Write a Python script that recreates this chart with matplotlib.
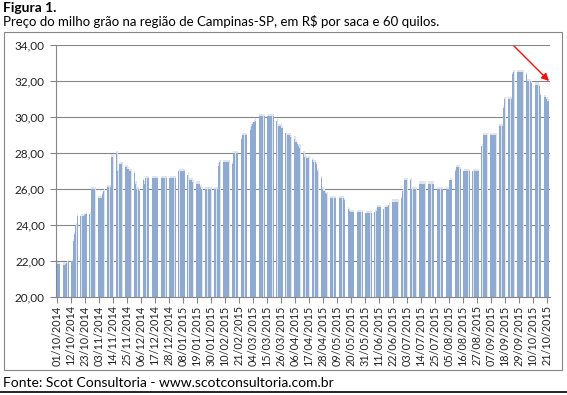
import matplotlib
matplotlib.use('Agg')
import matplotlib.pyplot as plt
import matplotlib.dates as mdates
from matplotlib.lines import Line2D
from matplotlib.patches import Rectangle
import pandas as pd

plt.rcParams['font.family'] = ['Lato', 'DejaVu Sans']

# Textos
titulo = 'Figura 1.'
subtitulo = 'Preço do milho grão na região de Campinas-SP, em R$ por saca e 60 quilos.'
fonte = 'Fonte: Scot Consultoria - www.scotconsultoria.com.br'

# Dias úteis do período
inicio = '2014-10-01'
fim = '2015-10-22'

# Preço diário (R$/saca), uma linha por semana
precos = [
    21.85, 21.85, 21.85,
    21.8, 21.8, 21.85, 21.9, 22.0,
    22.0, 23.1, 23.5, 24.0, 24.5,
    24.5, 24.5, 24.5, 24.55, 24.6,
    24.6, 26.0, 26.0, 26.0, 26.0,
    25.5, 25.5, 25.5, 25.7, 25.9,
    26.1, 26.1, 26.1, 27.8, 27.8,
    28.0, 27.0, 27.4, 27.4, 27.4,
    27.2, 27.2, 27.1, 27.0, 27.0,
    26.9, 26.3, 26.0, 26.0, 25.9,
    26.5, 26.3, 26.6, 26.6, 26.6,
    26.6, 26.6, 26.6, 26.6, 26.6,
    26.6, 26.6, 26.6, 26.6, 26.6,
    26.6, 26.6, 26.6, 26.6, 26.6,
    27.0, 27.0, 27.0, 27.0, 27.0,
    26.8, 26.5, 26.5, 26.5, 26.4,
    26.3, 26.3, 26.3, 26.1, 26.0,
    26.0, 26.0, 26.0, 26.0, 26.0,
    26.0, 26.0, 26.0, 27.3, 27.5,
    27.5, 27.5, 27.5, 27.5, 27.5,
    27.4, 28.0, 28.0, 28.0, 28.0,
    28.8, 29.0, 29.0, 29.0, 29.0,
    29.3, 29.5, 29.6, 29.7, 29.8,
    30.05, 30.05, 30.05, 30.05, 30.05,
    30.05, 30.05, 30.05, 30.05, 30.05,
    29.8, 29.5, 29.5, 29.5, 29.4,
    29.1, 29.0, 29.0, 29.0, 28.9,
    28.8, 28.6, 28.5, 28.4, 28.3,
    28.0, 27.8, 27.7, 27.7, 27.7,
    27.6, 27.5, 27.5, 27.4, 27.0,
    26.6, 26.0, 25.9, 25.8, 25.7,
    25.5, 25.5, 25.5, 25.5, 25.5,
    25.5, 25.5, 25.5, 25.5, 25.4,
    24.9, 24.8, 24.7, 24.7, 24.7,
    24.7, 24.7, 24.7, 24.7, 24.7,
    24.65, 24.65, 24.65, 24.65, 24.65,
    24.7, 24.8, 25.0, 25.0, 25.0,
    24.9, 25.0, 25.0, 25.0, 25.1,
    25.3, 25.3, 25.3, 25.3, 25.3,
    25.5, 25.9, 26.5, 26.5, 26.5,
    26.5, 26.0, 26.0, 26.0, 26.0,
    26.3, 26.3, 26.3, 26.3, 26.3,
    26.3, 26.3, 26.3, 26.3, 26.3,
    26.0, 26.0, 26.0, 26.0, 26.0,
    26.0, 26.0, 26.0, 26.5, 26.5,
    27.0, 27.2, 27.2, 27.2, 27.1,
    27.0, 27.0, 27.0, 27.0, 27.0,
    27.0, 27.0, 27.0, 27.0, 27.0,
    28.4, 29.0, 29.0, 29.0, 29.0,
    29.0, 29.0, 29.0, 29.0, 29.0,
    29.5, 29.5, 29.5, 30.5, 31.0,
    31.0, 31.0, 31.0, 32.4, 32.5,
    32.5, 32.5, 32.5, 32.5, 32.5,
    32.4, 32.0, 32.0, 32.0, 31.9,
    31.8, 31.8, 31.8, 31.7, 31.2,
    31.1, 31.1, 31.0, 30.9,
]

rotulos_x = [
    '01/10/2014', '12/10/2014', '23/10/2014', '03/11/2014', '14/11/2014',
    '25/11/2014', '06/12/2014', '17/12/2014', '28/12/2014', '08/01/2015',
    '19/01/2015', '30/01/2015', '10/02/2015', '21/02/2015', '04/03/2015',
    '15/03/2015', '26/03/2015', '06/04/2015', '17/04/2015', '28/04/2015',
    '09/05/2015', '20/05/2015', '31/05/2015', '11/06/2015', '22/06/2015',
    '03/07/2015', '14/07/2015', '25/07/2015', '05/08/2015', '16/08/2015',
    '27/08/2015', '07/09/2015', '18/09/2015', '29/09/2015', '10/10/2015',
    '21/10/2015',
]
ticks_y = [20, 22, 24, 26, 28, 30, 32, 34]

datas = pd.bdate_range(inicio, fim)
x = mdates.date2num(datas)
x_ticks = mdates.date2num(pd.to_datetime(rotulos_x, format='%d/%m/%Y'))

W, H = 567, 395
fig = plt.figure(figsize=(W / 100, H / 100), dpi=100)

# Área do gráfico (pixels: esquerda 56, direita 550, topo 45, base 297)
ax = fig.add_axes([56 / W, 1 - 297 / H, (550 - 56) / W, (297 - 45) / H])

cinza = '#868686'
# sombra leve acima das barras
ax.bar(x + 0.3, [p + 0.12 for p in precos], width=1.0, color='#e2e4e8', zorder=1)
ax.bar(x, precos, width=0.85, color='#8eaad1', zorder=2)

ax.set_ylim(20, 34)
ax.set_xlim(x_ticks[0] - 0.55, x_ticks[-1] + 2.6)
ax.set_yticks(ticks_y)
ax.set_yticklabels([f'{v:.2f}'.replace('.', ',') for v in ticks_y])
ax.set_xticks(x_ticks)
ax.set_xticklabels(rotulos_x, rotation=90)

ax.grid(axis='y', color=cinza, lw=0.8, zorder=0)
ax.set_axisbelow(True)
for s in ['top', 'right']:
    ax.spines[s].set_visible(False)
for s in ['left', 'bottom']:
    ax.spines[s].set_color(cinza)
    ax.spines[s].set_linewidth(0.8)
ax.tick_params(axis='y', length=4, color=cinza, labelsize=8.5, pad=4, labelcolor='#222222')
ax.tick_params(axis='x', length=4, color=cinza, labelsize=7.8, pad=2, labelcolor='#222222')

# Textos do cabeçalho e rodapé
fig.text(3 / W, 1 - 2 / H, titulo, fontsize=10, fontweight='bold', va='top', ha='left')
fig.text(3 / W, 1 - 15 / H, subtitulo, fontsize=9.5, va='top', ha='left')
fig.text(3 / W, 1 - 377 / H, fonte, fontsize=10, va='top', ha='left')

# Moldura do gráfico e linha inferior
fig.add_artist(Rectangle((4 / W, 1 - 370 / H), (562 - 4) / W, (370 - 32) / H,
                         transform=fig.transFigure, fill=False, ec=cinza, lw=0.8))
fig.add_artist(Line2D([0, 1], [1 - 392 / H] * 2, color='black', lw=1.2,
                      transform=fig.transFigure))

# Seta vermelha
ax.annotate('', xy=(551 / W, 1 - 83 / H), xytext=(512 / W, 1 - 44 / H),
            xycoords='figure fraction', textcoords='figure fraction',
            arrowprops=dict(arrowstyle='-|>', color='#ee1111', lw=1, mutation_scale=11))

fig.savefig('out.png', dpi=100)
